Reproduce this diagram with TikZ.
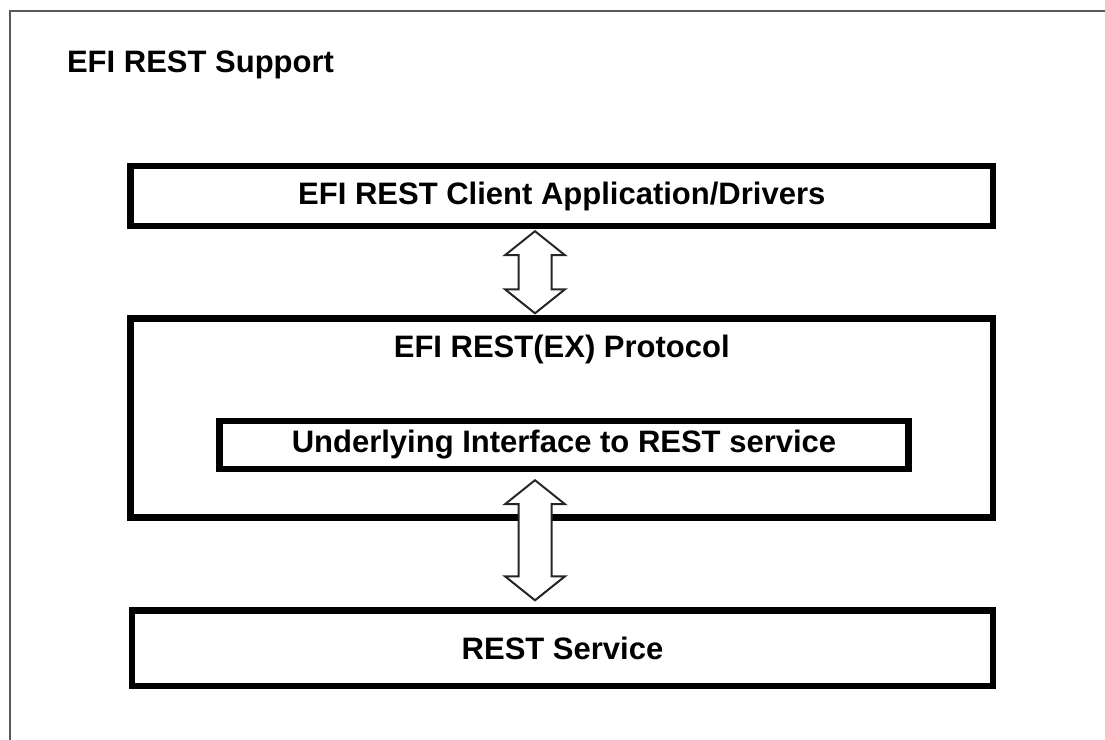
\documentclass[tikz,border=0pt]{standalone}
\usepackage{fontspec}
\setmainfont{Liberation Sans}
\usetikzlibrary{positioning, calc}

\newcommand{\blockpair}[2]{%
  \draw [updown] let \p1=(#1), \p2=(#2) in
    (\p1) -- (\x1+15pt,\y1-12pt) -- (\x1+8.25pt,\y1-12pt) -- (\x1+8.25pt,\y2+12pt)
    -- (\x1+15pt,\y2+12pt) -- (\p2) -- (\x1-15pt,\y2+12pt) -- (\x1-8.25pt,\y2+12pt)
    -- (\x1-8.25pt,\y1-12pt) -- (\x1-15pt,\y1-12pt) -- cycle;}

\begin{document}
\begin{tikzpicture}[
    x=0.5pt, y=-0.5pt,
    every node/.style={font=\fontsize{15.5}{18}\selectfont\bfseries},
    layer/.style={
        draw=black,
        line width=3.2pt,
        inner sep=0pt,
        align=center
    },
    frame/.style={
        draw=black!65,
        line width=1.3pt
    },
    updown/.style={
        draw=black!85,
        fill=white,
        line width=1pt,
        line join=miter
    }
]
\useasboundingbox (0,0) rectangle (1105,740);
\draw [frame] (10,11) rectangle (1130,770);

% Nodes
\node (title) [anchor=base west] at (60,72) {EFI REST Support};
\node (client) [layer, minimum width=431.25pt, minimum height=30pt] at (561.75,196) {EFI REST Client Application/Drivers};
\node (proto) [layer, minimum width=431.25pt, minimum height=99.5pt] at (561.75,418) {};
\node (protoname) [inner sep=0pt, below=9.75pt of proto.north] {EFI REST(EX) Protocol};
\node (iface) [layer, minimum width=344.5pt, minimum height=24pt] at (564,445) {Underlying Interface to REST service};
\node (rest) [layer, minimum width=430.5pt, minimum height=37.75pt] at (562.5,648.25) {REST Service};
\coordinate (ax) at (535,0);

% Paths
\blockpair{$(client.south -| ax)+(0,2)$}{$(proto.north -| ax)+(0,-2)$}
\blockpair{$(iface.south -| ax)+(0,8)$}{$(rest.north -| ax)+(0,-7)$}

\end{tikzpicture}
\end{document}
